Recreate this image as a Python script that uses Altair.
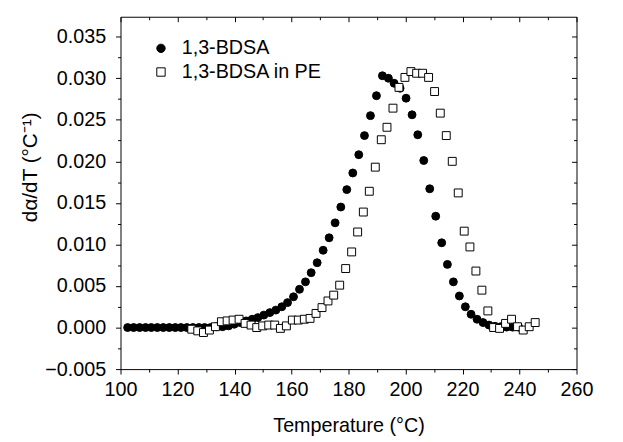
import altair as alt
import pandas as pd

series_names = ["1,3-BDSA", "1,3-BDSA in PE"]

bdsa_temp = [102.5, 104.6, 106.7, 108.8, 110.8, 112.9, 115.0, 117.1, 119.2, 121.2, 123.3,
             125.4, 127.5, 129.5, 131.6, 133.7, 135.8, 137.9, 139.9, 142.0, 144.1, 146.2,
             148.2, 150.3, 152.4, 154.5, 156.6, 158.6, 160.7, 162.8, 164.9, 166.9, 169.0,
             171.1, 173.2, 175.3, 177.3, 179.4, 181.5, 183.6, 185.6, 187.7, 189.8, 191.9,
             194.0, 196.0, 198.1, 200.2, 202.3, 204.3, 206.4, 208.5, 210.6, 212.7, 214.7,
             216.8, 218.9, 221.0, 223.0, 225.1, 227.2, 229.3, 231.4, 233.4, 235.5, 237.6, 239.7]
bdsa_rate = [0.0, 0.0, 0.0, 0.0, 0.0, 0.0, 0.0, 0.0, 0.0, 0.0, 0.0, 0.0, 0.0, 0.0, 0.0,
             0.0001, 0.0001, 0.0002, 0.0004, 0.0006, 0.0008, 0.0010, 0.0012, 0.0015, 0.0018,
             0.0021, 0.0025, 0.0030, 0.0037, 0.0046, 0.0055, 0.0066, 0.0078, 0.0093, 0.0108,
             0.0126, 0.0145, 0.0166, 0.0186, 0.0208, 0.0231, 0.0255, 0.0279, 0.0303, 0.0300,
             0.0294, 0.0288, 0.0276, 0.0256, 0.0232, 0.0201, 0.0167, 0.0134, 0.0102, 0.0076,
             0.0055, 0.0038, 0.0025, 0.0016, 0.0010, 0.0006, 0.0003, 0.00015, 0.0001, 0.00005,
             0.00005, 0.00005]

pe_temp = [125.0, 127.1, 129.1, 131.2, 133.3, 135.4, 137.4, 139.5, 141.6, 143.7, 145.8,
           147.8, 149.9, 152.0, 154.1, 156.1, 158.2, 160.3, 162.4, 164.5, 166.5, 168.6,
           170.7, 172.8, 174.8, 176.9, 179.0, 181.1, 183.2, 185.2, 187.3, 189.4, 191.5,
           193.5, 195.6, 197.7, 199.8, 201.9, 203.9, 206.0, 208.1, 210.2, 212.2, 214.3,
           216.4, 218.5, 220.6, 222.6, 224.7, 226.8, 228.9, 230.9, 233.0, 235.1, 237.2,
           239.3, 241.3, 243.4, 245.5]
pe_rate = [-0.0002, -0.0004, -0.0006, -0.0003, 0.0001, 0.0007, 0.0008, 0.0009, 0.0010, 0.0005,
           0.0003, 0.0000, 0.0002, 0.0003, 0.0003, -0.0001, 0.0002, 0.0009, 0.0009, 0.0010,
           0.0011, 0.0017, 0.0024, 0.0032, 0.0039, 0.0051, 0.0071, 0.0091, 0.0115, 0.0139,
           0.0164, 0.0193, 0.0226, 0.0241, 0.0264, 0.0289, 0.0301, 0.0308, 0.0306, 0.0306,
           0.0301, 0.0284, 0.0258, 0.0231, 0.0200, 0.0162, 0.0116, 0.0097, 0.0068, 0.0045,
           0.0020, 0.0000, -0.0001, 0.0005, 0.0010, 0.0001, -0.0003, 0.0001, 0.0006]

x_major = [100, 120, 140, 160, 180, 200, 220, 240, 260]
x_minor = [110, 130, 150, 170, 190, 210, 230, 250]
y_major = [-0.005, 0.0, 0.005, 0.010, 0.015, 0.020, 0.025, 0.030, 0.035]
y_minor = [-0.0025, 0.0025, 0.0075, 0.0125, 0.0175, 0.0225, 0.0275, 0.0325]

df = pd.concat([
    pd.DataFrame({"T": bdsa_temp, "v": bdsa_rate, "series": series_names[0]}),
    pd.DataFrame({"T": pe_temp, "v": pe_rate, "series": series_names[1]}),
], ignore_index=True)

FONT = "Liberation Sans"
x_scale = alt.Scale(domain=[100, 260], nice=False, zero=False)
y_scale = alt.Scale(domain=[-0.005, 0.0374], nice=False, zero=False)

legend = alt.Legend(title=None, orient="none", legendX=31, legendY=22, labelFontSize=20,
                    labelFont=FONT, labelColor="black", symbolSize=72,
                    symbolStrokeColor="black", symbolStrokeWidth=1, rowPadding=4,
                    labelOffset=11)

points = alt.Chart(df).mark_point(opacity=1, fillOpacity=1, strokeWidth=1, size=64).encode(
    x=alt.X("T:Q", scale=x_scale, axis=alt.Axis(
        orient="bottom", values=x_major, format="d", tickSize=5, domain=False,
        labelFlush=False, labelOverlap=False,
        labelFontSize=20, labelFont=FONT, labelColor="black", labelPadding=6,
        title="Temperature (°C)", titleFont=FONT, titleFontSize=20, titleFontWeight="normal",
        titleColor="black", titleX=231, titleY=57, titleBaseline="middle", titleAlign="center")),
    y=alt.Y("v:Q", scale=y_scale, axis=alt.Axis(
        orient="left", values=y_major, format=".3f", tickSize=5, domain=False,
        labelFlush=False, labelOverlap=False,
        labelFontSize=20, labelFont=FONT, labelColor="black", labelPadding=10,
        title="dα/dT (°C⁻¹)", titleFont=FONT, titleFontSize=21, titleFontWeight="normal",
        titleColor="black", titleX=-91, titleY=152, titleAngle=270,
        titleBaseline="middle", titleAlign="center")),
    shape=alt.Shape("series:N", scale=alt.Scale(domain=series_names, range=["circle", "square"]),
                    legend=legend),
    fill=alt.Fill("series:N", scale=alt.Scale(domain=series_names, range=["black", "white"]),
                  legend=legend),
    stroke=alt.Stroke("series:N", scale=alt.Scale(domain=series_names, range=["black", "black"]),
                      legend=legend),
)


def tick_layer(x_orient, y_orient, xvals, yvals, size, offset):
    return alt.Chart(df).mark_point(opacity=0).encode(
        x=alt.X("T:Q", scale=x_scale, axis=alt.Axis(
            orient=x_orient, values=xvals, tickSize=size, labels=False, domain=False,
            title=None, offset=offset)),
        y=alt.Y("v:Q", scale=y_scale, axis=alt.Axis(
            orient=y_orient, values=yvals, tickSize=size, labels=False, domain=False,
            title=None, offset=offset)),
    )


minor_bl = tick_layer("bottom", "left", x_minor, y_minor, 3, 0)
major_tr = tick_layer("top", "right", x_major, y_major, 5, -5)
minor_tr = tick_layer("top", "right", x_minor, y_minor, 3, -3)

chart = alt.layer(points, minor_bl, major_tr, minor_tr).resolve_axis(
    x="independent", y="independent"
).properties(
    width=462, height=357,
    autosize=alt.AutoSizeParams(type="none"),
    padding={"left": 114, "top": 6, "right": 39, "bottom": 71},
).configure_view(
    stroke="black", strokeWidth=1
).configure_axis(
    grid=False, tickColor="black", tickWidth=1
)

chart.save("out.html", embed_options={"renderer": "svg", "actions": False})
